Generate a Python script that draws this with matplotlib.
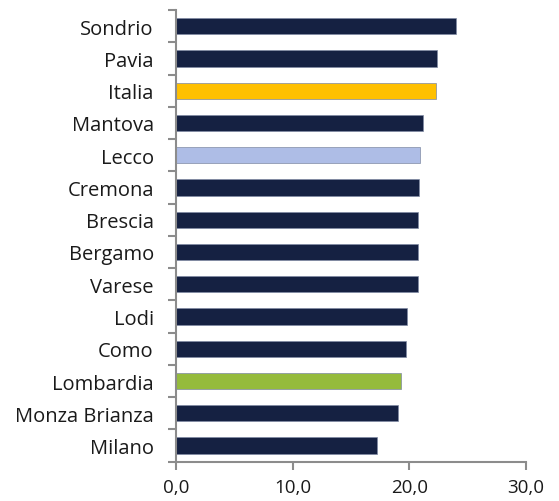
import matplotlib
matplotlib.use('Agg')
import matplotlib.pyplot as plt

# dati (dall'alto verso il basso come nel grafico)
territori = ['Sondrio', 'Pavia', 'Italia', 'Mantova', 'Lecco', 'Cremona', 'Brescia',
             'Bergamo', 'Varese', 'Lodi', 'Como', 'Lombardia', 'Monza Brianza', 'Milano']
valori = [24.0, 22.35, 22.3, 21.2, 20.9, 20.85, 20.75, 20.75, 20.7, 19.8, 19.75, 19.3, 19.0, 17.25]
colori = ['#152142', '#152142', '#FFC000', '#152142', '#AEBDE6', '#152142', '#152142',
          '#152142', '#152142', '#152142', '#152142', '#95BB3C', '#152142', '#152142']
xticks = [0, 10, 20, 30]
xtick_labels = ['0,0', '10,0', '20,0', '30,0']

plt.rcParams['font.family'] = ['Open Sans', 'DejaVu Sans']

fig = plt.figure(figsize=(5.59, 5.02), dpi=100)
ax = fig.add_axes([0.3148, 0.0783, 0.6262, 0.8997])

pos = list(range(len(territori)))[::-1]
ax.barh(pos, valori, height=0.5, color=colori, edgecolor='#7f8aa3', linewidth=0.5)

ax.set_xlim(0, 30)
ax.set_ylim(-0.5, len(territori) - 0.5)
ax.set_xticks(xticks)
ax.set_xticklabels(xtick_labels)
ax.set_yticks(pos)
ax.set_yticklabels(territori)
ax.set_yticks([p + 0.5 for p in range(-1, len(territori))], minor=True)

for s in ['top', 'right']:
    ax.spines[s].set_visible(False)
for s in ['left', 'bottom']:
    ax.spines[s].set_color('#8c8c8c')
    ax.spines[s].set_linewidth(1.5)

ax.tick_params(axis='y', which='major', length=0, pad=16, labelsize=14.5, labelcolor='#1a1a1a')
ax.tick_params(axis='y', which='minor', length=6, width=1.5, color='#8c8c8c')
ax.tick_params(axis='x', length=6, width=1.5, color='#8c8c8c', labelsize=13.5,
               labelcolor='#1a1a1a', pad=6)

fig.savefig('out.png', dpi=100)
